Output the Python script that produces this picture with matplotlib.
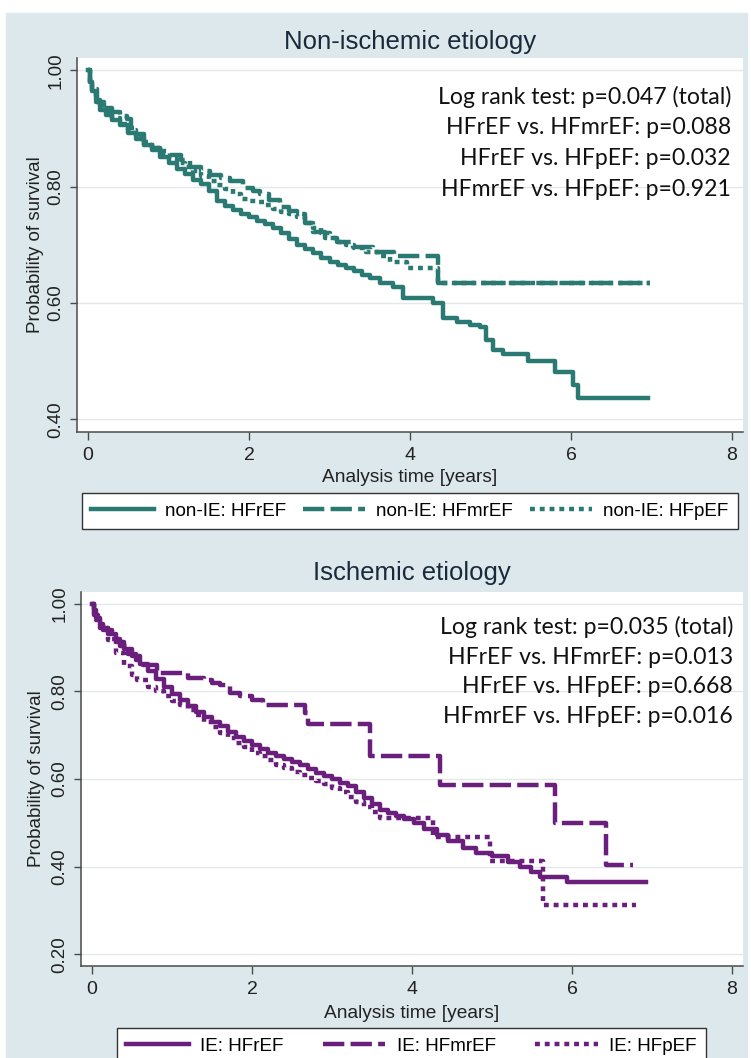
import matplotlib
matplotlib.use("Agg")
import matplotlib.pyplot as plt
from matplotlib.patches import Rectangle

# Kaplan-Meier estimates (time in years, survival probability)
# Non-ischemic etiology
t_non_hfref = [0, 0.02, 0.05, 0.1, 0.15, 0.22, 0.3, 0.4, 0.5, 0.6, 0.7, 0.8, 0.9, 1.0, 1.1, 1.2,
               1.3, 1.4, 1.5, 1.6, 1.7, 1.8, 1.9, 2.0, 2.1, 2.2, 2.3, 2.4, 2.5, 2.6, 2.7, 2.8,
               2.9, 3.0, 3.1, 3.2, 3.3, 3.4, 3.5, 3.63, 3.79, 3.91, 4.29, 4.41, 4.58, 4.75,
               4.87, 4.95, 5.03, 5.16, 5.47, 5.8, 6.02, 6.09, 6.96]
s_non_hfref = [1.0, 0.98, 0.965, 0.948, 0.932, 0.923, 0.914, 0.905, 0.892, 0.882, 0.872, 0.862,
               0.85, 0.84, 0.831, 0.821, 0.812, 0.804, 0.793, 0.776, 0.767, 0.759, 0.753, 0.747,
               0.741, 0.735, 0.728, 0.72, 0.709, 0.7, 0.692, 0.685, 0.678, 0.671, 0.665, 0.66,
               0.655, 0.648, 0.642, 0.634, 0.627, 0.609, 0.599, 0.574, 0.567, 0.562, 0.558,
               0.536, 0.519, 0.512, 0.5, 0.481, 0.458, 0.436, 0.436]

t_non_hfmref = [0, 0.02, 0.05, 0.11, 0.2, 0.3, 0.4, 0.48, 0.54, 0.6, 0.7, 0.8, 0.9, 1.02, 1.15,
                1.27, 1.4, 1.52, 1.65, 1.76, 1.93, 2.05, 2.14, 2.25, 2.39, 2.5, 2.6, 2.7, 2.8,
                2.95, 3.09, 3.29, 3.54, 3.8, 4.35, 6.98]
s_non_hfmref = [1.0, 0.98, 0.968, 0.945, 0.935, 0.928, 0.922, 0.916, 0.9, 0.89, 0.872, 0.866,
                0.861, 0.855, 0.845, 0.833, 0.826, 0.82, 0.815, 0.81, 0.797, 0.793, 0.788,
                0.777, 0.765, 0.758, 0.752, 0.738, 0.722, 0.712, 0.704, 0.696, 0.687, 0.68,
                0.634, 0.634]

t_non_hfpef = [0, 0.02, 0.05, 0.1, 0.2, 0.3, 0.4, 0.5, 0.6, 0.7, 0.8, 0.9, 1.0, 1.1, 1.2, 1.3,
               1.4, 1.5, 1.6, 1.7, 1.8, 1.9, 2.0, 2.1, 2.2, 2.3, 2.4, 2.5, 2.6, 2.7, 2.8, 2.9,
               3.0, 3.1, 3.2, 3.3, 3.45, 3.6, 3.75, 3.96, 4.35, 6.98]
s_non_hfpef = [1.0, 0.978, 0.962, 0.945, 0.93, 0.918, 0.908, 0.897, 0.886, 0.876, 0.866, 0.856,
               0.848, 0.84, 0.833, 0.826, 0.818, 0.81, 0.803, 0.796, 0.787, 0.779, 0.776, 0.773,
               0.768, 0.762, 0.757, 0.752, 0.747, 0.738, 0.728, 0.72, 0.712, 0.705, 0.7, 0.694,
               0.688, 0.68, 0.67, 0.66, 0.634, 0.634]

# Ischemic etiology
t_ie_hfref = [0, 0.02, 0.05, 0.1, 0.14, 0.2, 0.3, 0.4, 0.5, 0.6, 0.7, 0.8, 0.9, 1.0, 1.1, 1.2,
              1.3, 1.4, 1.5, 1.6, 1.7, 1.8, 1.9, 2.0, 2.1, 2.2, 2.3, 2.4, 2.5, 2.6, 2.7, 2.8,
              2.9, 3.0, 3.1, 3.2, 3.3, 3.4, 3.5, 3.6, 3.7, 3.8, 3.9, 4.02, 4.15, 4.31, 4.45,
              4.64, 4.8, 5.0, 5.2, 5.35, 5.49, 5.6, 5.94, 6.93]
s_ie_hfref = [1.0, 0.985, 0.968, 0.952, 0.945, 0.932, 0.913, 0.896, 0.88, 0.863, 0.846, 0.828,
              0.81, 0.794, 0.78, 0.766, 0.753, 0.741, 0.731, 0.72, 0.708, 0.696, 0.686, 0.677,
              0.668, 0.66, 0.652, 0.645, 0.638, 0.631, 0.622, 0.614, 0.607, 0.6, 0.591, 0.583,
              0.57, 0.556, 0.542, 0.53, 0.522, 0.515, 0.508, 0.5, 0.486, 0.472, 0.458, 0.442,
              0.432, 0.424, 0.41, 0.4, 0.388, 0.376, 0.364, 0.364]

t_ie_hfmref = [0, 0.03, 0.08, 0.14, 0.25, 0.35, 0.45, 0.55, 0.64, 0.81, 1.2, 1.4, 1.5, 1.6,
               1.72, 1.85, 2.0, 2.14, 2.66, 2.7, 3.47, 4.35, 5.79, 6.43, 6.76]
s_ie_hfmref = [1.0, 0.975, 0.955, 0.94, 0.92, 0.903, 0.885, 0.872, 0.86, 0.842, 0.83, 0.826,
               0.82, 0.815, 0.797, 0.79, 0.78, 0.77, 0.75, 0.726, 0.652, 0.586, 0.5, 0.403, 0.403]

t_ie_hfpef = [0, 0.02, 0.05, 0.1, 0.2, 0.3, 0.4, 0.5, 0.56, 0.7, 0.8, 0.9, 1.0, 1.1, 1.2, 1.3,
              1.4, 1.5, 1.6, 1.7, 1.8, 1.9, 2.0, 2.1, 2.2, 2.3, 2.4, 2.5, 2.6, 2.7, 2.8, 2.9,
              3.0, 3.1, 3.2, 3.3, 3.4, 3.5, 3.6, 4.26, 4.98, 5.64, 6.8]
s_ie_hfpef = [1.0, 0.98, 0.962, 0.945, 0.918, 0.888, 0.858, 0.838, 0.826, 0.81, 0.8, 0.79,
              0.778, 0.768, 0.757, 0.745, 0.73, 0.718, 0.705, 0.694, 0.683, 0.672, 0.66,
              0.652, 0.643, 0.632, 0.624, 0.617, 0.61, 0.603, 0.596, 0.588, 0.58, 0.57, 0.56,
              0.548, 0.536, 0.525, 0.51, 0.467, 0.413, 0.312, 0.312]

x_ticks = [0, 2, 4, 6, 8]
y_ticks_top = [0.40, 0.60, 0.80, 1.00]
y_ticks_bottom = [0.20, 0.40, 0.60, 0.80, 1.00]

stats_top = ["Log rank test: p=0.047 (total)", "HFrEF vs. HFmrEF: p=0.088",
             "HFrEF vs. HFpEF: p=0.032", "HFmrEF vs. HFpEF: p=0.921"]
stats_bottom = ["Log rank test: p=0.035 (total)", "HFrEF vs. HFmrEF: p=0.013",
                "HFrEF vs. HFpEF: p=0.668", "HFmrEF vs. HFpEF: p=0.016"]

labels_top = ["non-IE: HFrEF", "non-IE: HFmrEF", "non-IE: HFpEF"]
labels_bottom = ["IE: HFrEF", "IE: HFmrEF", "IE: HFpEF"]

teal = "#2a7a73"
purple = "#6b1f7c"
bg = "#dce8ec"

plt.rcParams["font.family"] = ["Liberation Sans", "DejaVu Sans"]

W, H = 751, 1058
fig = plt.figure(figsize=(W / 100, H / 100), dpi=100, facecolor="white")
fig.patches.append(Rectangle((6 / W, 0), (747 - 6) / W, (H - 13) / H,
                             transform=fig.transFigure, color=bg, zorder=-10))

ax1 = fig.add_axes([77 / W, 1 - 432 / H, (743 - 77) / W, (432 - 58) / H])
ax2 = fig.add_axes([81 / W, 1 - 966 / H, (743 - 81) / W, (966 - 592) / H])

dash = (0, (4.8, 1.4))
dot = (0, (1.1, 1.1))


def style_axes(ax, yticks, ylim, ylab_x, xlab_y):
    ax.set_facecolor("white")
    ax.set_xlim(-0.137, 8.137)
    ax.set_ylim(*ylim)
    ax.set_xticks(x_ticks)
    ax.set_yticks(yticks)
    ax.set_yticklabels(["%.2f" % v for v in yticks], rotation=90, va="center")
    ax.grid(axis="y", color="#e4e8ea", linewidth=1.0)
    ax.set_axisbelow(True)
    for side in ["top", "right"]:
        ax.spines[side].set_visible(False)
    for side in ["left", "bottom"]:
        ax.spines[side].set_color("#4a4a4a")
        ax.spines[side].set_linewidth(1.1)
    ax.tick_params(axis="y", length=5, width=1, color="#4a4a4a", labelsize=13.5,
                   labelcolor="#222222", pad=4)
    ax.tick_params(axis="x", length=6, width=1, color="#4a4a4a", labelsize=14,
                   labelcolor="#222222", pad=5)
    ax.set_xlabel("Analysis time [years]", fontsize=13.8, color="#222222")
    ax.xaxis.set_label_coords(0.5, xlab_y)
    ax.set_ylabel("Probability of survival", fontsize=13.5, color="#222222")
    ax.yaxis.set_label_coords(ylab_x, 0.5)


legend_kw = dict(loc="upper left", bbox_transform=fig.transFigure, ncol=3, mode="expand",
                 borderaxespad=0, fontsize=13.6, handlelength=3.3, handletextpad=0.6,
                 fancybox=False, edgecolor="#333333", framealpha=1, borderpad=0.5)

# top panel
l1, = ax1.plot(t_non_hfref, s_non_hfref, drawstyle="steps-post", color=teal, lw=3.2)
l2, = ax1.plot(t_non_hfmref, s_non_hfmref, drawstyle="steps-post", color=teal, lw=3.2,
               linestyle=dash)
l3, = ax1.plot(t_non_hfpef, s_non_hfpef, drawstyle="steps-post", color=teal, lw=3.2,
               linestyle=dot)
style_axes(ax1, y_ticks_top, (0.378, 1.021), -0.05, -0.1)
for i, txt in enumerate(stats_top):
    ax1.text(0.982, [0.896, 0.815, 0.732, 0.649][i], txt, transform=ax1.transAxes,
             ha="right", va="center", fontsize=16.6, family=["Lato", "DejaVu Sans"],
             color="#111111")
fig.text(410 / W, 1 - 42 / H, "Non-ischemic etiology", ha="center", va="center",
         fontsize=18.5, color="#1a2a3a")
fig.legend([l1, l2, l3], labels_top,
           bbox_to_anchor=(82 / W, 0, (738 - 82) / W, (H - 493) / H), **legend_kw)

# bottom panel
m1, = ax2.plot(t_ie_hfref, s_ie_hfref, drawstyle="steps-post", color=purple, lw=3.2)
m2, = ax2.plot(t_ie_hfmref, s_ie_hfmref, drawstyle="steps-post", color=purple, lw=3.2,
               linestyle=dash)
m3, = ax2.plot(t_ie_hfpef, s_ie_hfpef, drawstyle="steps-post", color=purple, lw=3.2,
               linestyle=dot)
style_axes(ax2, y_ticks_bottom, (0.173, 1.027), -0.055, -0.103)
for i, txt in enumerate(stats_bottom):
    ax2.text(0.985, [0.906, 0.826, 0.746, 0.666][i], txt, transform=ax2.transAxes,
             ha="right", va="center", fontsize=16.6, family=["Lato", "DejaVu Sans"],
             color="#111111")
fig.text(412 / W, 1 - 573 / H, "Ischemic etiology", ha="center", va="center",
         fontsize=18.5, color="#1a2a3a")
fig.legend([m1, m2, m3], labels_bottom,
           bbox_to_anchor=(117 / W, 0, (706 - 117) / W, (H - 1028) / H), **legend_kw)

plt.savefig("out.png", dpi=100)
